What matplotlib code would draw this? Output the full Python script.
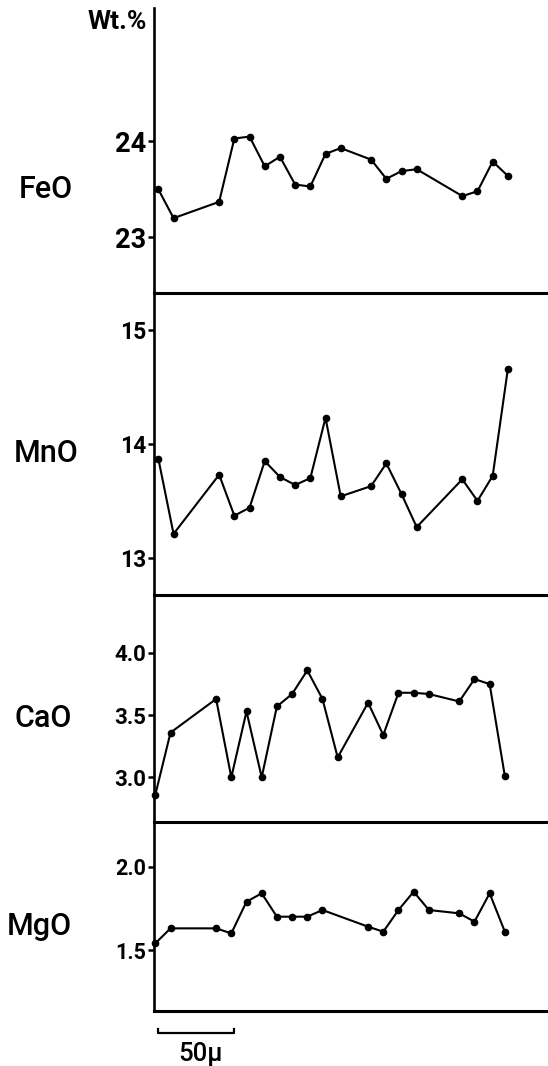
import matplotlib
matplotlib.use('Agg')
import matplotlib.pyplot as plt
from matplotlib.transforms import blended_transform_factory

W, H, DPI = 548, 1066, 100
plt.rcParams['font.family'] = ['Roboto', 'DejaVu Sans']

# ---- data (distance along traverse in microns, wt.%) ----
oxides = ['FeO', 'MnO', 'CaO', 'MgO']

feo_x = [0, 10, 40, 50, 60, 70, 80, 90, 100, 110, 120, 140, 150, 160, 170, 200, 210, 220, 230]
feo_y = [23.50, 23.20, 23.37, 24.03, 24.05, 23.74, 23.84, 23.55, 23.53, 23.87, 23.93,
         23.81, 23.61, 23.69, 23.71, 23.43, 23.48, 23.79, 23.64]

mno_x = [0, 10, 40, 50, 60, 70, 80, 90, 100, 110, 120, 140, 150, 160, 170, 200, 210, 220, 230]
mno_y = [13.87, 13.21, 13.73, 13.37, 13.44, 13.85, 13.71, 13.64, 13.70, 14.23, 13.54,
         13.63, 13.83, 13.56, 13.27, 13.69, 13.50, 13.72, 14.66]

cao_x = [-2, 8, 38, 48, 58, 68, 78, 88, 98, 108, 118, 138, 148, 158, 168, 178, 198, 208, 218, 228]
cao_y = [2.86, 3.36, 3.63, 3.00, 3.53, 3.00, 3.57, 3.67, 3.86, 3.63, 3.16, 3.60, 3.34,
         3.68, 3.68, 3.67, 3.61, 3.79, 3.75, 3.01]

mgo_x = [-2, 8, 38, 48, 58, 68, 78, 88, 98, 108, 138, 148, 158, 168, 178, 198, 208, 218, 228]
mgo_y = [1.54, 1.63, 1.63, 1.60, 1.79, 1.84, 1.70, 1.70, 1.70, 1.74, 1.64, 1.61, 1.74,
         1.85, 1.74, 1.72, 1.67, 1.84, 1.61]

feo_ticks, feo_labels = [23, 24], ['23', '24']
mno_ticks, mno_labels = [13, 14, 15], ['13', '14', '15']
cao_ticks, cao_labels = [3.0, 3.5, 4.0], ['3.0', '3.5', '4.0']
mgo_ticks, mgo_labels = [1.5, 2.0], ['1.5', '2.0']

scale_len = 50
scale_label = '50µ'
unit_label = 'Wt.%'

# ---- layout (pixels) ----
panels = [
    (feo_x, feo_y, feo_ticks, feo_labels, (22.42, 25.39), 8, 293, 19.5, 198.3, 46),
    (mno_x, mno_y, mno_ticks, mno_labels, (12.673, 15.327), 293, 595, 16.5, 462.3, 46),
    (cao_x, cao_y, cao_ticks, cao_labels, (2.641, 4.466), 595, 822, 16, 726.7, 43),
    (mgo_x, mgo_y, mgo_ticks, mgo_labels, (1.136, 2.268), 822, 1010.7, 15.5, 935, 39),
]
left_px, right_px = 153.5, 548
xlim = (-3.2, 256.4)

fig = plt.figure(figsize=(W / DPI, H / DPI), dpi=DPI)
fig.patch.set_facecolor('white')

def fx(px):
    return px / W

def fy(py):
    return 1 - py / H

axes = []
for name, (xs, ys, ticks, labels, ylim, top, bot, tsize, base, cx) in zip(oxides, panels):
    ax = fig.add_axes([fx(left_px), fy(bot), fx(right_px - left_px), (bot - top) / H])
    ax.plot(xs, ys, color='black', lw=1.5, marker='o', ms=4.5, mfc='black', mec='black',
            clip_on=False, zorder=3)
    ax.set_xlim(*xlim)
    ax.set_ylim(*ylim)
    ax.set_yticks(ticks)
    ax.set_yticklabels(labels, fontsize=tsize, fontweight='bold')
    ax.tick_params(axis='y', length=4, width=1.8, pad=1.5, direction='out')
    ax.tick_params(axis='x', length=0, labelbottom=False)
    ax.set_xticks([])
    for s in ('top', 'right'):
        ax.spines[s].set_visible(False)
    ax.spines['left'].set_linewidth(1.9)
    ax.spines['bottom'].set_linewidth(2.2)
    ax.set_facecolor('none')
    fig.text(fx(cx), fy(base), name, ha='center', va='baseline', fontsize=22,
             fontweight='medium')
    axes.append(ax)

# unit label at the top of the axis
fig.text(fx(147), fy(29.3), unit_label, ha='right', va='baseline', fontsize=19,
         fontweight='bold')

# scale bar below the bottom panel
axb = axes[-1]
tr = blended_transform_factory(axb.transData, fig.transFigure)
yb, yc = fy(1033), fy(1029)
axb.plot([0, 0, scale_len, scale_len], [yc, yb, yb, yc], color='black', lw=1.6,
         transform=tr, clip_on=False)
axb.text(scale_len / 2 + 2.5, fy(1060.7), scale_label, transform=tr, ha='center',
         va='baseline', fontsize=18.5, fontweight='medium')

fig.savefig('out.png', dpi=DPI, facecolor='white')
